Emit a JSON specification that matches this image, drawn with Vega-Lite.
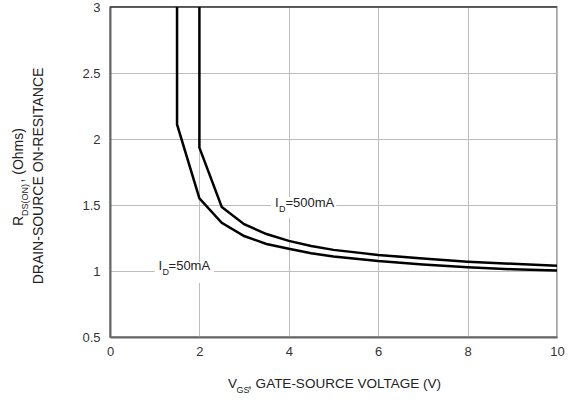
{
  "$schema": "https://vega.github.io/schema/vega-lite/v6.json",
  "width": 447,
  "height": 330,
  "autosize": {"type": "none"},
  "padding": {"left": 110, "top": 7, "right": 11, "bottom": 65},
  "background": "white",
  "config": {"font": "Liberation Sans", "view": {"stroke": "#888", "strokeWidth": 1.5}},
  "datasets": {
    "curves": [
      {"id": "50mA", "i": 0, "x": 1.5, "y": 3},
      {"id": "50mA", "i": 1, "x": 1.5, "y": 2.11},
      {"id": "50mA", "i": 2, "x": 2, "y": 1.55},
      {"id": "50mA", "i": 3, "x": 2.5, "y": 1.365},
      {"id": "50mA", "i": 4, "x": 3, "y": 1.265},
      {"id": "50mA", "i": 5, "x": 3.5, "y": 1.205},
      {"id": "50mA", "i": 6, "x": 4, "y": 1.168},
      {"id": "50mA", "i": 7, "x": 4.5, "y": 1.135},
      {"id": "50mA", "i": 8, "x": 5, "y": 1.11},
      {"id": "50mA", "i": 9, "x": 6, "y": 1.076},
      {"id": "50mA", "i": 10, "x": 7, "y": 1.05},
      {"id": "50mA", "i": 11, "x": 8, "y": 1.028},
      {"id": "50mA", "i": 12, "x": 9, "y": 1.013},
      {"id": "50mA", "i": 13, "x": 10, "y": 1.003},
      {"id": "500mA", "i": 0, "x": 2, "y": 3},
      {"id": "500mA", "i": 1, "x": 2, "y": 1.935},
      {"id": "500mA", "i": 2, "x": 2.5, "y": 1.485},
      {"id": "500mA", "i": 3, "x": 3, "y": 1.355},
      {"id": "500mA", "i": 4, "x": 3.5, "y": 1.28},
      {"id": "500mA", "i": 5, "x": 4, "y": 1.228},
      {"id": "500mA", "i": 6, "x": 4.5, "y": 1.19},
      {"id": "500mA", "i": 7, "x": 5, "y": 1.16},
      {"id": "500mA", "i": 8, "x": 6, "y": 1.122},
      {"id": "500mA", "i": 9, "x": 7, "y": 1.094},
      {"id": "500mA", "i": 10, "x": 8, "y": 1.071},
      {"id": "500mA", "i": 11, "x": 9, "y": 1.055},
      {"id": "500mA", "i": 12, "x": 10, "y": 1.04}
    ],
    "boxes": [
      {"x": 3.6, "x2": 5.06, "y": 1.4, "y2": 1.56},
      {"x": 1.0, "x2": 2.33, "y": 0.91, "y2": 1.068}
    ],
    "top": [{"x": 0, "x2": 10, "y": 3}],
    "labels": [
      {"t": "I", "x": 3.69, "y": 1.485},
      {"t": "=500mA", "x": 3.926, "y": 1.485},
      {"t": "I", "x": 1.085, "y": 1.008},
      {"t": "=50mA", "x": 1.31, "y": 1.008}
    ],
    "subs": [
      {"t": "D", "x": 3.78, "y": 1.485},
      {"t": "D", "x": 1.175, "y": 1.008}
    ],
    "xtitle": [
      {"t": "V", "x": 2.64, "y": 0.114},
      {"t": ", GATE-SOURCE VOLTAGE (V)", "x": 3.09, "y": 0.114}
    ],
    "xtitlesub": [
      {"t": "GS", "x": 2.83, "y": 0.114}
    ],
    "ytitle": [
      {"t": "R", "x": -1.946, "y": 1.341},
      {"t": ", (Ohms)", "x": -1.946, "y": 1.67}
    ],
    "ytitlesub": [
      {"t": "DS(ON)", "x": -1.946, "y": 1.417}
    ],
    "ytitle2": [
      {"t": "DRAIN-SOURCE ON-RESITANCE", "x": -1.499, "y": 1.72}
    ]
  },
  "encoding": {
    "x": {
      "field": "x", "type": "quantitative",
      "scale": {"domain": [0, 10], "nice": false, "zero": false},
      "axis": {"values": [0, 2, 4, 6, 8, 10], "title": null, "grid": true, "gridColor": "#bdbdbd", "gridWidth": 1, "ticks": false, "domainColor": "#666", "domainWidth": 2, "labelFontSize": 13, "labelColor": "#333", "labelPadding": 8, "labelFlush": false, "format": "d"}
    },
    "y": {
      "field": "y", "type": "quantitative",
      "scale": {"domain": [0.5, 3], "nice": false, "zero": false},
      "axis": {"values": [0.5, 1, 1.5, 2, 2.5, 3], "title": null, "grid": true, "gridColor": "#bdbdbd", "gridWidth": 1, "ticks": false, "domainColor": "#666", "domainWidth": 2, "labelFontSize": 13, "labelColor": "#333", "labelPadding": 10, "labelFlush": false, "format": ".1~f"}
    }
  },
  "layer": [
    {
      "data": {"name": "boxes"},
      "mark": {"type": "rect", "color": "white"},
      "encoding": {"x2": {"field": "x2"}, "y2": {"field": "y2"}}
    },
    {
      "data": {"name": "curves"},
      "mark": {"type": "line", "color": "black", "strokeWidth": 2.5},
      "encoding": {
        "detail": {"field": "id"},
        "order": {"field": "i", "type": "quantitative"}
      }
    },
    {
      "data": {"name": "top"},
      "mark": {"type": "rule", "color": "black", "strokeWidth": 1.2},
      "encoding": {"x2": {"field": "x2"}}
    },
    {
      "data": {"name": "labels"},
      "mark": {"type": "text", "align": "left", "baseline": "alphabetic", "fontSize": 13, "color": "#222"},
      "encoding": {"text": {"field": "t"}}
    },
    {
      "data": {"name": "subs"},
      "mark": {"type": "text", "align": "left", "baseline": "alphabetic", "fontSize": 9, "dy": 5, "color": "#222"},
      "encoding": {"text": {"field": "t"}}
    },
    {
      "data": {"name": "xtitle"},
      "mark": {"type": "text", "align": "left", "baseline": "alphabetic", "fontSize": 13.5, "color": "#222"},
      "encoding": {"text": {"field": "t"}}
    },
    {
      "data": {"name": "xtitlesub"},
      "mark": {"type": "text", "align": "left", "baseline": "alphabetic", "fontSize": 9, "dy": 5, "color": "#222"},
      "encoding": {"text": {"field": "t"}}
    },
    {
      "data": {"name": "ytitle"},
      "mark": {"type": "text", "align": "left", "baseline": "alphabetic", "angle": 270, "fontSize": 14, "color": "#222"},
      "encoding": {"text": {"field": "t"}}
    },
    {
      "data": {"name": "ytitlesub"},
      "mark": {"type": "text", "align": "left", "baseline": "alphabetic", "angle": 270, "fontSize": 9, "dy": 5, "color": "#222"},
      "encoding": {"text": {"field": "t"}}
    },
    {
      "data": {"name": "ytitle2"},
      "mark": {"type": "text", "align": "center", "baseline": "alphabetic", "angle": 270, "fontSize": 14, "color": "#222"},
      "encoding": {"text": {"field": "t"}}
    }
  ]
}
